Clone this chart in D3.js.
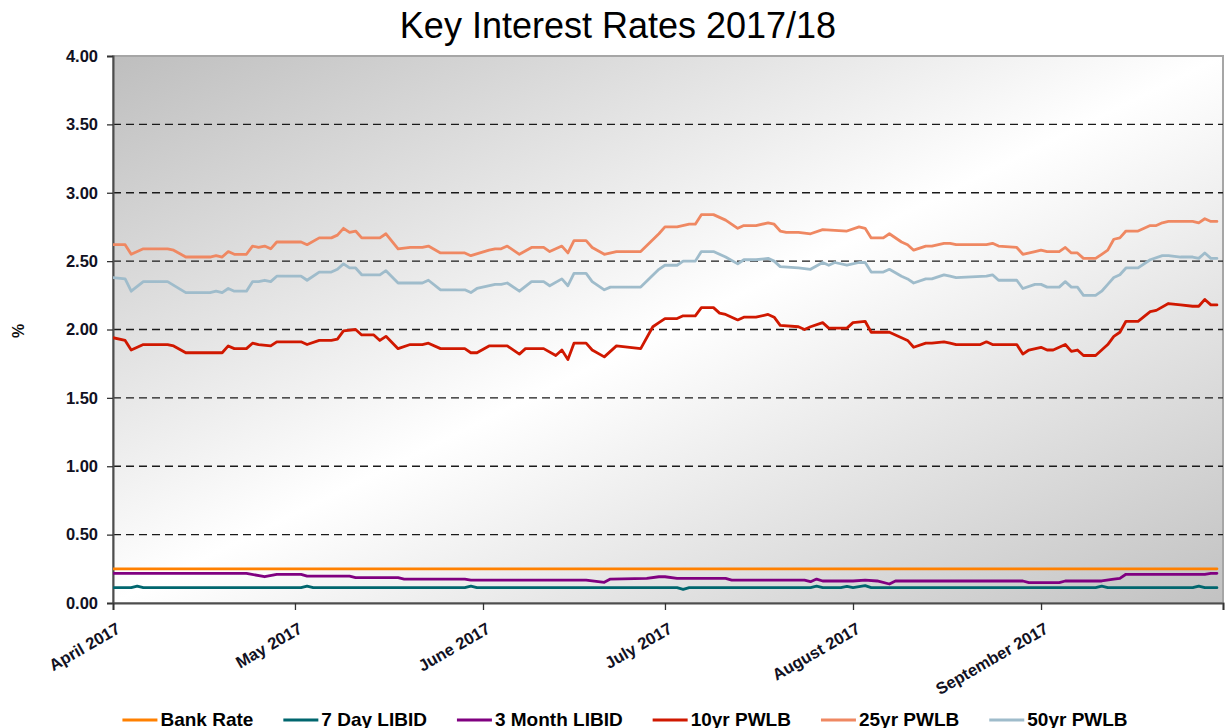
<!DOCTYPE html>
<html>
<head>
<meta charset="utf-8">
<script src="https://cdn.jsdelivr.net/npm/d3@7"></script>
<style>
  html, body { margin: 0; padding: 0; background: #ffffff; }
  svg { display: block; font-family: "Liberation Sans", Arial, sans-serif; }
</style>
</head>
<body>
<svg id="chart" width="1228" height="728"></svg>
<script>
// ---- Data -------------------------------------------------------------
const title = "Key Interest Rates 2017/18";
const yTickValues = [0, 0.5, 1, 1.5, 2, 2.5, 3, 3.5, 4];
const monthTicks = ["2017-04-01", "2017-05-01", "2017-06-01", "2017-07-01", "2017-08-01", "2017-09-01", "2017-10-01"];
const monthLabels = ["April 2017", "May 2017", "June 2017", "July 2017", "August 2017", "September 2017", ""];
const seriesNames = ["Bank Rate", "7 Day LIBID", "3 Month LIBID", "10yr PWLB", "25yr PWLB", "50yr PWLB"];
const seriesColors = ["#ff8000", "#00666e", "#800080", "#d01800", "#ef8862", "#9fbccb"];

const bankRate = [["2017-04-01", 0.25], ["2017-09-30", 0.25]];

const libid7Day = [
  ["2017-04-01", 0.112], ["2017-04-04", 0.112], ["2017-04-05", 0.124], ["2017-04-06", 0.112],
  ["2017-05-02", 0.112], ["2017-05-03", 0.124], ["2017-05-04", 0.112],
  ["2017-05-29", 0.112], ["2017-05-30", 0.124], ["2017-05-31", 0.112],
  ["2017-07-03", 0.112], ["2017-07-04", 0.100], ["2017-07-05", 0.112],
  ["2017-07-25", 0.112], ["2017-07-26", 0.124], ["2017-07-27", 0.112],
  ["2017-07-30", 0.112], ["2017-07-31", 0.122], ["2017-08-01", 0.112],
  ["2017-08-03", 0.127], ["2017-08-04", 0.112],
  ["2017-09-10", 0.112], ["2017-09-11", 0.124], ["2017-09-12", 0.112],
  ["2017-09-26", 0.112], ["2017-09-27", 0.124], ["2017-09-28", 0.112], ["2017-09-30", 0.112]
];

const libid3Month = [
  ["2017-04-01", 0.217], ["2017-04-23", 0.217], ["2017-04-26", 0.192], ["2017-04-28", 0.21],
  ["2017-05-02", 0.21], ["2017-05-03", 0.197], ["2017-05-10", 0.197], ["2017-05-11", 0.185],
  ["2017-05-18", 0.185], ["2017-05-19", 0.175], ["2017-05-29", 0.175], ["2017-05-30", 0.168],
  ["2017-06-18", 0.168], ["2017-06-21", 0.151], ["2017-06-22", 0.175], ["2017-06-28", 0.18],
  ["2017-06-30", 0.192], ["2017-07-01", 0.192], ["2017-07-03", 0.18], ["2017-07-11", 0.18],
  ["2017-07-12", 0.168], ["2017-07-24", 0.168], ["2017-07-25", 0.156], ["2017-07-26", 0.175],
  ["2017-07-27", 0.161], ["2017-08-01", 0.161], ["2017-08-03", 0.168], ["2017-08-05", 0.161],
  ["2017-08-07", 0.139], ["2017-08-08", 0.161], ["2017-08-29", 0.161], ["2017-08-30", 0.149],
  ["2017-09-04", 0.149], ["2017-09-05", 0.161], ["2017-09-11", 0.161], ["2017-09-13", 0.175],
  ["2017-09-14", 0.18], ["2017-09-15", 0.21], ["2017-09-28", 0.21], ["2017-09-29", 0.217],
  ["2017-09-30", 0.217]
];

const pwlb10yr = [
  ["2017-04-01", 1.94], ["2017-04-03", 1.92], ["2017-04-04", 1.85], ["2017-04-06", 1.89], ["2017-04-10", 1.89],
  ["2017-04-11", 1.88], ["2017-04-13", 1.83], ["2017-04-19", 1.83], ["2017-04-20", 1.88], ["2017-04-21", 1.86],
  ["2017-04-23", 1.86], ["2017-04-24", 1.90], ["2017-04-25", 1.89], ["2017-04-27", 1.88], ["2017-04-28", 1.91],
  ["2017-05-02", 1.91], ["2017-05-03", 1.89], ["2017-05-05", 1.92], ["2017-05-07", 1.92], ["2017-05-08", 1.93],
  ["2017-05-09", 1.99], ["2017-05-11", 2.00], ["2017-05-12", 1.96], ["2017-05-14", 1.96], ["2017-05-15", 1.92],
  ["2017-05-16", 1.95], ["2017-05-18", 1.86], ["2017-05-20", 1.89], ["2017-05-22", 1.89], ["2017-05-23", 1.90],
  ["2017-05-25", 1.86], ["2017-05-29", 1.86], ["2017-05-30", 1.83], ["2017-05-31", 1.83], ["2017-06-02", 1.88],
  ["2017-06-05", 1.88], ["2017-06-07", 1.82], ["2017-06-08", 1.86], ["2017-06-11", 1.86], ["2017-06-13", 1.81],
  ["2017-06-14", 1.85], ["2017-06-15", 1.78], ["2017-06-16", 1.90], ["2017-06-18", 1.90], ["2017-06-19", 1.85],
  ["2017-06-21", 1.80], ["2017-06-23", 1.88], ["2017-06-27", 1.86], ["2017-06-29", 2.02], ["2017-06-30", 2.05],
  ["2017-07-01", 2.08], ["2017-07-03", 2.08], ["2017-07-04", 2.10], ["2017-07-06", 2.10], ["2017-07-07", 2.16],
  ["2017-07-09", 2.16], ["2017-07-10", 2.12], ["2017-07-11", 2.11], ["2017-07-13", 2.07], ["2017-07-14", 2.09],
  ["2017-07-16", 2.09], ["2017-07-18", 2.11], ["2017-07-19", 2.09], ["2017-07-20", 2.03], ["2017-07-23", 2.02],
  ["2017-07-24", 2.00], ["2017-07-25", 2.02], ["2017-07-27", 2.05], ["2017-07-28", 2.01], ["2017-07-31", 2.01],
  ["2017-08-01", 2.05], ["2017-08-03", 2.06], ["2017-08-04", 1.98], ["2017-08-06", 1.98], ["2017-08-07", 1.98],
  ["2017-08-09", 1.94], ["2017-08-10", 1.92], ["2017-08-11", 1.87], ["2017-08-13", 1.90], ["2017-08-14", 1.90],
  ["2017-08-16", 1.91], ["2017-08-17", 1.90], ["2017-08-18", 1.89], ["2017-08-22", 1.89], ["2017-08-23", 1.91],
  ["2017-08-24", 1.89], ["2017-08-28", 1.89], ["2017-08-29", 1.82], ["2017-08-30", 1.85], ["2017-09-01", 1.87],
  ["2017-09-02", 1.85], ["2017-09-03", 1.85], ["2017-09-05", 1.89], ["2017-09-06", 1.84], ["2017-09-07", 1.85],
  ["2017-09-08", 1.81], ["2017-09-10", 1.81], ["2017-09-11", 1.85], ["2017-09-12", 1.89], ["2017-09-13", 1.95],
  ["2017-09-14", 1.98], ["2017-09-15", 2.06], ["2017-09-17", 2.06], ["2017-09-19", 2.13], ["2017-09-20", 2.14],
  ["2017-09-22", 2.19], ["2017-09-24", 2.18], ["2017-09-26", 2.17], ["2017-09-27", 2.17], ["2017-09-28", 2.22],
  ["2017-09-29", 2.18], ["2017-09-30", 2.18]
];

const pwlb25yr = [
  ["2017-04-01", 2.62], ["2017-04-03", 2.62], ["2017-04-04", 2.55], ["2017-04-06", 2.59], ["2017-04-10", 2.59],
  ["2017-04-11", 2.58], ["2017-04-13", 2.53], ["2017-04-17", 2.53], ["2017-04-18", 2.54], ["2017-04-19", 2.53],
  ["2017-04-20", 2.57], ["2017-04-21", 2.55], ["2017-04-23", 2.55], ["2017-04-24", 2.61], ["2017-04-25", 2.60],
  ["2017-04-26", 2.61], ["2017-04-27", 2.59], ["2017-04-28", 2.64], ["2017-05-02", 2.64], ["2017-05-03", 2.62],
  ["2017-05-05", 2.67], ["2017-05-07", 2.67], ["2017-05-08", 2.69], ["2017-05-09", 2.74], ["2017-05-10", 2.71],
  ["2017-05-11", 2.72], ["2017-05-12", 2.67], ["2017-05-14", 2.67], ["2017-05-15", 2.67], ["2017-05-16", 2.70],
  ["2017-05-18", 2.59], ["2017-05-20", 2.60], ["2017-05-22", 2.60], ["2017-05-23", 2.61], ["2017-05-25", 2.56],
  ["2017-05-29", 2.56], ["2017-05-30", 2.54], ["2017-06-02", 2.58], ["2017-06-03", 2.59], ["2017-06-04", 2.59],
  ["2017-06-05", 2.61], ["2017-06-07", 2.55], ["2017-06-09", 2.60], ["2017-06-11", 2.60], ["2017-06-12", 2.57],
  ["2017-06-14", 2.61], ["2017-06-15", 2.56], ["2017-06-16", 2.65], ["2017-06-18", 2.65], ["2017-06-19", 2.60],
  ["2017-06-21", 2.55], ["2017-06-23", 2.57], ["2017-06-27", 2.57], ["2017-06-30", 2.70], ["2017-07-01", 2.75],
  ["2017-07-03", 2.75], ["2017-07-05", 2.77], ["2017-07-06", 2.77], ["2017-07-07", 2.84], ["2017-07-09", 2.84],
  ["2017-07-11", 2.80], ["2017-07-13", 2.74], ["2017-07-14", 2.76], ["2017-07-16", 2.76], ["2017-07-18", 2.78],
  ["2017-07-19", 2.77], ["2017-07-20", 2.72], ["2017-07-21", 2.71], ["2017-07-23", 2.71], ["2017-07-25", 2.70],
  ["2017-07-27", 2.73], ["2017-07-31", 2.72], ["2017-08-02", 2.75], ["2017-08-03", 2.74], ["2017-08-04", 2.67],
  ["2017-08-06", 2.67], ["2017-08-07", 2.70], ["2017-08-09", 2.64], ["2017-08-10", 2.62], ["2017-08-11", 2.58],
  ["2017-08-13", 2.61], ["2017-08-14", 2.61], ["2017-08-16", 2.63], ["2017-08-17", 2.63], ["2017-08-18", 2.62],
  ["2017-08-23", 2.62], ["2017-08-24", 2.63], ["2017-08-25", 2.61], ["2017-08-28", 2.60], ["2017-08-29", 2.55],
  ["2017-08-31", 2.57], ["2017-09-01", 2.58], ["2017-09-02", 2.57], ["2017-09-04", 2.57], ["2017-09-05", 2.60],
  ["2017-09-06", 2.56], ["2017-09-07", 2.56], ["2017-09-08", 2.52], ["2017-09-10", 2.52], ["2017-09-11", 2.55],
  ["2017-09-12", 2.58], ["2017-09-13", 2.66], ["2017-09-14", 2.67], ["2017-09-15", 2.72], ["2017-09-17", 2.72],
  ["2017-09-19", 2.76], ["2017-09-20", 2.76], ["2017-09-21", 2.78], ["2017-09-22", 2.79], ["2017-09-24", 2.79],
  ["2017-09-26", 2.79], ["2017-09-27", 2.78], ["2017-09-28", 2.81], ["2017-09-29", 2.79], ["2017-09-30", 2.79]
];

const pwlb50yr = [
  ["2017-04-01", 2.38], ["2017-04-03", 2.37], ["2017-04-04", 2.28], ["2017-04-06", 2.35], ["2017-04-10", 2.35],
  ["2017-04-13", 2.27], ["2017-04-17", 2.27], ["2017-04-18", 2.28], ["2017-04-19", 2.27], ["2017-04-20", 2.30],
  ["2017-04-21", 2.28], ["2017-04-23", 2.28], ["2017-04-24", 2.35], ["2017-04-25", 2.35], ["2017-04-26", 2.36],
  ["2017-04-27", 2.35], ["2017-04-28", 2.39], ["2017-05-02", 2.39], ["2017-05-03", 2.36], ["2017-05-05", 2.42],
  ["2017-05-07", 2.42], ["2017-05-08", 2.44], ["2017-05-09", 2.48], ["2017-05-10", 2.45], ["2017-05-11", 2.45],
  ["2017-05-12", 2.40], ["2017-05-15", 2.40], ["2017-05-16", 2.43], ["2017-05-18", 2.34], ["2017-05-22", 2.34],
  ["2017-05-23", 2.36], ["2017-05-25", 2.29], ["2017-05-29", 2.29], ["2017-05-30", 2.27], ["2017-05-31", 2.30],
  ["2017-06-03", 2.33], ["2017-06-04", 2.33], ["2017-06-05", 2.34], ["2017-06-07", 2.28], ["2017-06-09", 2.35],
  ["2017-06-11", 2.35], ["2017-06-12", 2.32], ["2017-06-14", 2.37], ["2017-06-15", 2.32], ["2017-06-16", 2.41],
  ["2017-06-18", 2.41], ["2017-06-19", 2.35], ["2017-06-21", 2.29], ["2017-06-22", 2.31], ["2017-06-27", 2.31],
  ["2017-06-30", 2.44], ["2017-07-01", 2.47], ["2017-07-03", 2.47], ["2017-07-04", 2.50], ["2017-07-06", 2.50],
  ["2017-07-07", 2.57], ["2017-07-09", 2.57], ["2017-07-11", 2.53], ["2017-07-13", 2.48], ["2017-07-14", 2.51],
  ["2017-07-16", 2.51], ["2017-07-18", 2.52], ["2017-07-19", 2.50], ["2017-07-20", 2.46], ["2017-07-23", 2.45],
  ["2017-07-25", 2.44], ["2017-07-27", 2.49], ["2017-07-28", 2.47], ["2017-07-29", 2.49], ["2017-07-31", 2.47],
  ["2017-08-02", 2.49], ["2017-08-03", 2.49], ["2017-08-04", 2.42], ["2017-08-06", 2.42], ["2017-08-07", 2.44],
  ["2017-08-09", 2.39], ["2017-08-10", 2.37], ["2017-08-11", 2.34], ["2017-08-13", 2.37], ["2017-08-14", 2.37],
  ["2017-08-16", 2.40], ["2017-08-17", 2.39], ["2017-08-18", 2.38], ["2017-08-23", 2.39], ["2017-08-24", 2.40],
  ["2017-08-25", 2.36], ["2017-08-28", 2.36], ["2017-08-29", 2.30], ["2017-08-31", 2.33], ["2017-09-01", 2.33],
  ["2017-09-02", 2.31], ["2017-09-04", 2.31], ["2017-09-05", 2.35], ["2017-09-06", 2.31], ["2017-09-07", 2.31],
  ["2017-09-08", 2.25], ["2017-09-10", 2.25], ["2017-09-11", 2.28], ["2017-09-12", 2.33], ["2017-09-13", 2.38],
  ["2017-09-14", 2.40], ["2017-09-15", 2.45], ["2017-09-17", 2.45], ["2017-09-19", 2.51], ["2017-09-21", 2.54],
  ["2017-09-22", 2.54], ["2017-09-24", 2.53], ["2017-09-26", 2.53], ["2017-09-27", 2.52], ["2017-09-28", 2.56],
  ["2017-09-29", 2.52], ["2017-09-30", 2.52]
];

const seriesData = [bankRate, libid7Day, libid3Month, pwlb10yr, pwlb25yr, pwlb50yr];

// ---- Layout -------------------------------------------------------------
const plot = { left: 113, right: 1223, top: 56, bottom: 603 };
const parse = d3.timeParse("%Y-%m-%d");

const svg = d3.select("#chart");

const x = d3.scaleTime()
  .domain([parse("2017-04-01"), parse("2017-10-01")])
  .range([plot.left, plot.right]);
const y = d3.scaleLinear()
  .domain([0, 4])
  .range([plot.bottom, plot.top]);

// Plot background: diagonal grey-white-grey gradient
const defs = svg.append("defs");
const grad = defs.append("linearGradient")
  .attr("id", "plotBg")
  .attr("x1", 0).attr("y1", 0).attr("x2", 1).attr("y2", 1);
grad.append("stop").attr("offset", "0%").attr("stop-color", "#bebebe");
grad.append("stop").attr("offset", "50%").attr("stop-color", "#ffffff");
grad.append("stop").attr("offset", "100%").attr("stop-color", "#c2c2c2");

defs.append("clipPath").attr("id", "plotClip")
  .append("rect")
  .attr("x", plot.left).attr("y", plot.top - 2)
  .attr("width", plot.right - plot.left).attr("height", plot.bottom - plot.top + 2);

svg.append("rect")
  .attr("x", plot.left).attr("y", plot.top)
  .attr("width", plot.right - plot.left)
  .attr("height", plot.bottom - plot.top)
  .attr("fill", "url(#plotBg)")
  .attr("stroke", "#a6a6a6")
  .attr("stroke-width", 2);

// Title
svg.append("text")
  .attr("x", 618).attr("y", 38)
  .attr("text-anchor", "middle")
  .attr("font-size", 36)
  .attr("fill", "#000")
  .text(title);

// Dashed horizontal gridlines
svg.append("g")
  .selectAll("line")
  .data(yTickValues.filter(v => v > 0 && v < 4))
  .join("line")
  .attr("x1", plot.left).attr("x2", plot.right)
  .attr("y1", d => y(d)).attr("y2", d => y(d))
  .attr("stroke", "#1a1a1a")
  .attr("stroke-width", 1.3)
  .attr("stroke-dasharray", "8,5");

// Y axis
const yAxis = d3.axisLeft(y)
  .tickValues(yTickValues)
  .tickFormat(d3.format(".2f"))
  .tickSize(6)
  .tickPadding(9);
const gy = svg.append("g")
  .attr("transform", `translate(${plot.left},0)`)
  .call(yAxis);
gy.select(".domain").attr("stroke", "#4d4d4d").attr("stroke-width", 2);
gy.selectAll(".tick line").attr("stroke", "#333").attr("stroke-width", 1.3);
gy.selectAll(".tick text")
  .attr("font-family", "'Liberation Sans', Arial, sans-serif")
  .attr("font-size", 16.5)
  .attr("font-weight", "bold")
  .attr("fill", "#111122");

// X axis
const monthDates = monthTicks.map(parse);
const xAxis = d3.axisBottom(x)
  .tickValues(monthDates)
  .tickFormat((d, i) => monthLabels[i])
  .tickSize(7);
const gx = svg.append("g")
  .attr("transform", `translate(0,${plot.bottom})`)
  .call(xAxis);
gx.select(".domain").attr("stroke", "#4d4d4d").attr("stroke-width", 2);
gx.selectAll(".tick line").attr("stroke", "#333").attr("stroke-width", 1.3);
gx.selectAll(".tick text")
  .attr("font-family", "'Liberation Sans', Arial, sans-serif")
  .attr("font-size", 16.5)
  .attr("font-weight", "bold")
  .attr("fill", "#111122")
  .attr("text-anchor", "end")
  .attr("dy", 0)
  .attr("transform", "translate(8,29) rotate(-30)")
  .attr("y", 0);

// Y axis title
svg.append("text")
  .attr("transform", "translate(24,331) rotate(-90)")
  .attr("text-anchor", "middle")
  .attr("font-size", 16)
  .attr("font-weight", "bold")
  .attr("fill", "#111")
  .text("%");

// Series lines
const line = d3.line()
  .x(d => x(parse(d[0])))
  .y(d => y(d[1]))
  .curve(d3.curveLinear);

svg.append("g")
  .attr("clip-path", "url(#plotClip)")
  .selectAll("path")
  .data(seriesData)
  .join("path")
  .attr("d", d => line(d))
  .attr("fill", "none")
  .attr("stroke", (d, i) => seriesColors[i])
  .attr("stroke-width", 2.8)
  .attr("stroke-linejoin", "round")
  .attr("stroke-linecap", "round");

// Legend
const legend = svg.append("g");
const items = legend.selectAll("g")
  .data(seriesNames)
  .join("g");
items.append("line")
  .attr("x1", 0).attr("x2", 35)
  .attr("y1", 720).attr("y2", 720)
  .attr("stroke", (d, i) => seriesColors[i])
  .attr("stroke-width", 3);
items.append("text")
  .attr("x", 38).attr("y", 725.5)
  .attr("font-size", 19)
  .attr("font-weight", "bold")
  .attr("fill", "#000")
  .text(d => d);

const gap = 30;
const widths = [];
items.each(function () {
  widths.push(38 + d3.select(this).select("text").node().getComputedTextLength());
});
const total = d3.sum(widths) + gap * (widths.length - 1);
let cursor = 625 - total / 2;
items.each(function (d, i) {
  d3.select(this).attr("transform", `translate(${cursor},0)`);
  cursor += widths[i] + gap;
});
</script>
</body>
</html>
